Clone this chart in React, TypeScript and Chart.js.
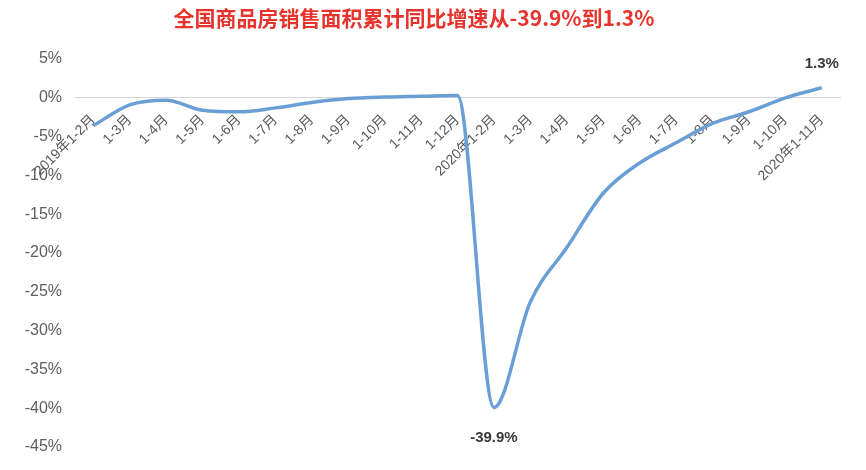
import React, { useEffect, useRef } from "react";
import { Chart, registerables } from "chart.js";

Chart.register(...registerables);

const title = "全国商品房销售面积累计同比增速从-39.9%到1.3%";

const categories = [
  "2019年1-2月", "1-3月", "1-4月", "1-5月", "1-6月", "1-7月", "1-8月", "1-9月",
  "1-10月", "1-11月", "1-12月", "2020年1-2月", "1-3月", "1-4月", "1-5月", "1-6月",
  "1-7月", "1-8月", "1-9月", "1-10月", "2020年1-11月",
];

const growth = [
  -3.6, -0.9, -0.3, -1.6, -1.8, -1.3, -0.6, -0.1, 0.1, 0.2, 0.3,
  -39.9, -26.3, -19.3, -12.3, -8.4, -5.8, -3.3, -1.8, 0.0, 1.3,
];

// points that carry a value label: index -> above/below
const labelled: { index: number; place: "above" | "below" }[] = [
  { index: 11, place: "below" },
  { index: 20, place: "above" },
];

const FONT = "'Liberation Sans', 'Noto Sans CJK SC', sans-serif";

const titlePlugin = {
  id: "leftTitle",
  afterDraw(chart: Chart) {
    const ctx = chart.ctx;
    ctx.save();
    ctx.font = "bold 21px 'Noto Sans CJK SC', sans-serif";
    ctx.fillStyle = "#e8322c";
    ctx.textAlign = "center";
    ctx.textBaseline = "middle";
    ctx.fillText(title, 414, 18);
    ctx.restore();
  },
};

const valueLabels = {
  id: "valueLabels",
  afterDatasetsDraw(chart: Chart) {
    const ctx = chart.ctx;
    const meta = chart.getDatasetMeta(0);
    ctx.save();
    ctx.font = `bold 15px ${FONT}`;
    ctx.fillStyle = "#3a3a3a";
    ctx.textAlign = "center";
    ctx.textBaseline = "middle";
    labelled.forEach(({ index, place }) => {
      const pt = meta.data[index];
      const dy = place === "above" ? -24 : 30;
      ctx.fillText(`${growth[index].toFixed(1)}%`, pt.x, pt.y + dy);
    });
    ctx.restore();
  },
};

const App: React.FC = () => {
  const canvasRef = useRef<HTMLCanvasElement | null>(null);

  useEffect(() => {
    if (!canvasRef.current) return;
    const chart = new Chart(canvasRef.current, {
      type: "line",
      data: {
        labels: categories,
        datasets: [
          {
            data: growth,
            borderColor: "#6a9fd6",
            borderWidth: 3.5,
            pointRadius: 0,
            cubicInterpolationMode: "monotone",
            fill: false,
          },
        ],
      },
      options: {
        animation: false,
        responsive: false,
        layout: { padding: { top: 59, right: 26, bottom: 23, left: 0 } },
        plugins: {
          legend: { display: false },
          tooltip: { enabled: false },
          title: { display: false },
        },
        scales: {
          x: {
            position: { y: 0 },
            offset: true,
            grid: { display: false, drawTicks: false },
            border: { display: true, color: "#d6d6d6", width: 1 },
            ticks: {
              autoSkip: false,
              maxRotation: 45,
              minRotation: 45,
              padding: 14,
              color: "#595959",
              font: { family: FONT, size: 14 },
            },
          },
          y: {
            min: -45,
            max: 5,
            grid: { display: false, drawTicks: false },
            border: { display: false },
            afterFit: (scale: any) => {
              scale.width = 75;
            },
            ticks: {
              stepSize: 5,
              padding: 13,
              color: "#5e5e5e",
              font: { family: FONT, size: 16 },
              callback: (v: any) => `${v}%`,
            },
          },
        },
      },
      plugins: [titlePlugin, valueLabels],
    });
    return () => chart.destroy();
  }, []);

  return (
    <div style={{ position: "fixed", left: 0, top: 0, width: 866, height: 470, background: "#fff" }}>
      <canvas ref={canvasRef} width={866} height={470} />
    </div>
  );
};

export default App;
